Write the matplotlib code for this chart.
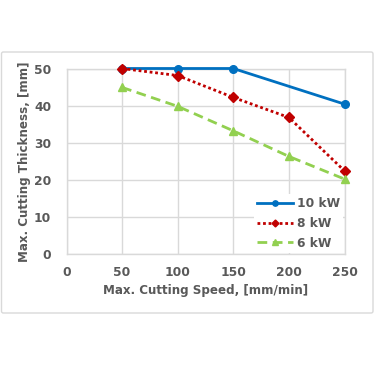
import matplotlib
matplotlib.use("Agg")
import matplotlib.pyplot as plt
from matplotlib.patches import FancyBboxPatch

speed_10 = [50, 100, 150, 250]
thick_10 = [50, 50, 50, 40.4]
speed = [50, 100, 150, 200, 250]
thick_8 = [50, 48.1, 42.2, 36.8, 22.4]
thick_6 = [44.9, 39.8, 33.2, 26.3, 20.2]
xticks = [0, 50, 100, 150, 200, 250]
yticks = [0, 10, 20, 30, 40, 50]

W, H = 376, 367
fig = plt.figure(figsize=(W/100, H/100), dpi=100)
fig.patch.set_facecolor("white")

# outer chart frame
frame = FancyBboxPatch((1.5/W, 1 - 313/H), (373 - 1.5)/W, (313 - 52)/H,
                       boxstyle="round,pad=0,rounding_size=0.005",
                       transform=fig.transFigure, facecolor="white",
                       edgecolor="#d9d9d9", linewidth=1.0, zorder=-5)
fig.patches.append(frame)

ax = fig.add_axes([66.5/W, 1 - 254/H, (344.5 - 66.5)/W, (254 - 68.5)/H])
ax.set_zorder(1)
ax.patch.set_alpha(0)
ax.set_xlim(0, 250)
ax.set_ylim(0, 50)
ax.set_xticks(xticks)
ax.set_yticks(yticks)
ax.grid(True, color="#d9d9d9", linewidth=1.0)
ax.set_axisbelow(True)
for s in ax.spines.values():
    s.set_color("#d9d9d9")
    s.set_linewidth(1.0)
ax.tick_params(length=0, colors="#595959", labelsize=8.8)
ax.tick_params(axis="y", pad=11)
ax.tick_params(axis="x", pad=9)
for lab in ax.get_xticklabels() + ax.get_yticklabels():
    lab.set_fontweight("bold")

ax.plot(speed_10, thick_10, color="#0070C0", lw=2, marker="o", ms=5.5,
        label="10 kW", clip_on=False, zorder=5)
ax.plot(speed, thick_8, color="#C00000", lw=2, ls=(0, (1, 1)), marker="D", ms=5,
        label="8 kW", clip_on=False, zorder=5)
ax.plot(speed, thick_6, color="#92D050", lw=2, ls=(0, (3.5, 2)), marker="^", ms=6,
        label="6 kW", clip_on=False, zorder=5)

ax.set_xlabel("Max. Cutting Speed, [mm/min]", fontsize=8.6, fontweight="bold",
              color="#595959", labelpad=3)
ax.set_ylabel("Max. Cutting Thickness, [mm]", fontsize=8.6, fontweight="bold",
              color="#595959", labelpad=2)

leg = ax.legend(loc="lower right", frameon=True, fancybox=False, framealpha=1,
                edgecolor="none", facecolor="white", fontsize=8.8,
                handlelength=3.0, handletextpad=0.3, labelspacing=0.55,
                borderpad=0.25, borderaxespad=0.1, markerscale=0.7)
for t in leg.get_texts():
    t.set_fontweight("bold")
    t.set_color("#595959")

fig.savefig("out.png", dpi=100, facecolor="white")
